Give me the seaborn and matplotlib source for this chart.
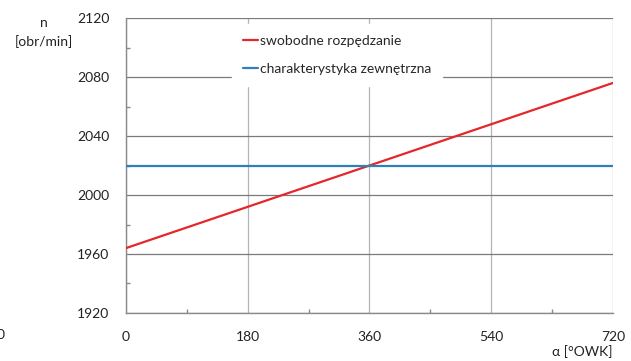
import matplotlib
matplotlib.use("Agg")
import matplotlib.pyplot as plt
from matplotlib.ticker import MultipleLocator
import seaborn as sns
import pandas as pd

sns.set_theme(style="white")
plt.rcParams['font.family'] = ['Lato', 'DejaVu Sans']

# data
alpha = [0, 720]
n_free = [1964, 2076]
n_ext = [2020, 2020]
label_free = "swobodne rozpędzanie"
label_ext = "charakterystyka zewnętrzna"
xticks = [0, 180, 360, 540, 720]
yticks = [1920, 1960, 2000, 2040, 2080, 2120]

df = pd.DataFrame({
    "alpha": alpha * 2,
    "n": n_free + n_ext,
    "series": [label_free] * 2 + [label_ext] * 2,
})

fig = plt.figure(figsize=(6.31, 3.61), dpi=100)
ax = fig.add_axes([0.1997, 0.1330, 0.7717, 0.8170])

sns.lineplot(data=df, x="alpha", y="n", hue="series",
             palette={label_free: "#e5262a", label_ext: "#2e80b8"},
             linewidth=1.6, ax=ax, zorder=3)

ax.set_xlim(0, 720)
ax.set_ylim(1920, 2120)
ax.set_xticks(xticks)
ax.set_yticks(yticks)
ax.xaxis.set_minor_locator(MultipleLocator(90))
ax.yaxis.set_minor_locator(MultipleLocator(20))
ax.tick_params(which="major", length=0, labelsize=10, colors="#222222")
ax.tick_params(axis="x", which="major", pad=13)
ax.tick_params(axis="y", which="major", pad=12)
ax.tick_params(which="minor", length=3, direction="in", color="#888888",
               bottom=True, left=True)
ax.grid(axis="y", which="major", color="#7a7a7a", linewidth=0.9)
ax.grid(axis="x", which="major", color="#b4b4b4", linewidth=0.9)
for s in ["top", "right"]:
    ax.spines[s].set_visible(False)
for s in ["left", "bottom"]:
    ax.spines[s].set_color("#8a8a8a")
    ax.spines[s].set_linewidth(1.0)
ax.set_xlabel("")
ax.set_ylabel("")

leg = ax.legend(loc="upper left", bbox_to_anchor=(0.218, 0.98), frameon=True,
                fontsize=10, handlelength=1.05, handletextpad=0.15,
                labelspacing=1.15, borderpad=0.8, borderaxespad=0)
leg.get_frame().set_facecolor("white")
leg.get_frame().set_edgecolor("white")
leg.get_frame().set_alpha(1.0)
leg.set_zorder(4)

fig.text(0.069, 0.935, "n", ha="center", va="center", fontsize=10, color="#222222")
fig.text(0.069, 0.885, "[obr/min]", ha="center", va="center", fontsize=10, color="#222222")
fig.text(0.970, 0.025, "α [°OWK]", ha="right", va="center", fontsize=10, color="#222222")
fig.text(-0.006, 0.073, "0", ha="left", va="center", fontsize=10, color="#222222")

fig.savefig("out.png", dpi=100, facecolor="white")
